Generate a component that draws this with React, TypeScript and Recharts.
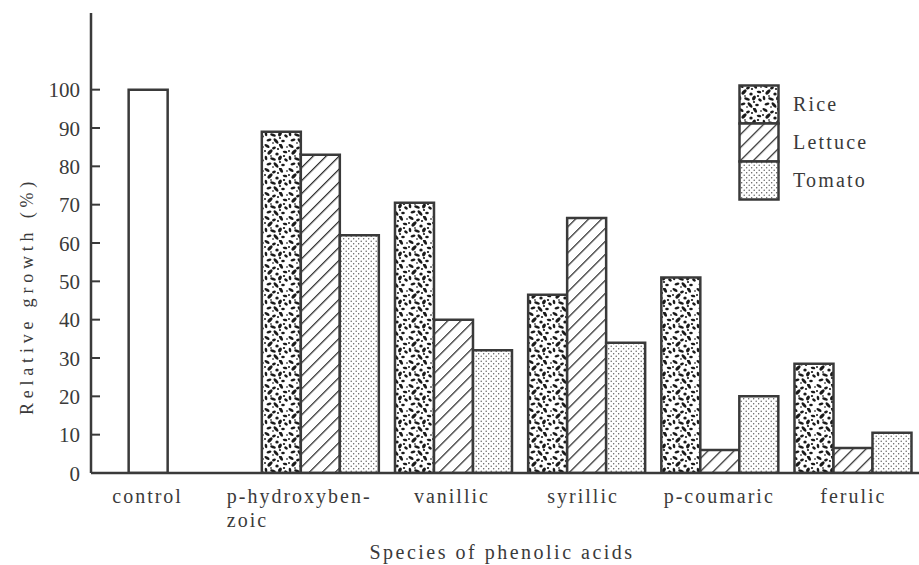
import React from "react";
import { BarChart, Bar, XAxis, YAxis, Legend } from "recharts";

// ---- data ----
const categories = ["control", "p-hydroxybenzoic", "vanillic", "syrillic", "p-coumaric", "ferulic"];
const controlValues = [100, null, null, null, null, null];
const riceValues = [null, 89, 70.5, 46.5, 51, 28.5];
const lettuceValues = [null, 83, 40, 66.5, 6, 6.5];
const tomatoValues = [null, 62, 32, 34, 20, 10.5];
const tickLabels = [["control"], ["p-hydroxyben-", "zoic"], ["vanillic"], ["syrillic"], ["p-coumaric"], ["ferulic"]];
const legendLabels = ["Rice", "Lettuce", "Tomato"];
const yTicks = [0, 10, 20, 30, 40, 50, 60, 70, 80, 90, 100];

const data = categories.map((c, i) => ({
  name: c,
  control: controlValues[i],
  rice: riceValues[i],
  lettuce: lettuceValues[i],
  tomato: tomatoValues[i],
}));

// ---- style / layout ----
const INK = "#3a3a3a";
const TEXT = "#3a3a3a";
const FONT = "'Liberation Serif', 'DejaVu Serif', serif";
const W = 919;
const H = 565;
const AXIS_X = 91;
const fills = ["url(#speckle)", "url(#hatch)", "url(#dots)"];
const tickLayout = [
  { anchor: "middle", dx: -39 },
  { anchor: "start", dx: -93 },
  { anchor: "middle", dx: -1 },
  { anchor: "middle", dx: -3 },
  { anchor: "middle", dx: 0 },
  { anchor: "middle", dx: 1 },
];
const blobs: [number, number, number, number, number][] = [
  [3, 2, 2.8, 1.3, 30], [10, 4, 2.0, 1.3, -20], [17, 2, 3.0, 1.5, 60], [21, 8, 2.3, 1.2, 10],
  [6, 8, 3.2, 1.6, -45], [13, 10, 1.7, 1.5, 0], [2, 14, 2.3, 1.3, 80], [9, 15, 3.0, 1.4, 20],
  [16, 14, 2.5, 1.7, -60], [22, 16, 2.0, 1.3, 40], [5, 20, 2.5, 1.3, -10], [12, 21, 3.3, 1.5, 50],
  [19, 21, 1.8, 1.2, 0], [14, 5, 1.1, 1.0, 0], [20, 12, 1.2, 0.9, 0], [7, 12, 1.0, 0.8, 0],
  [1, 7, 1.0, 0.9, 0], [16, 18, 1.1, 1.0, 0], [23, 3, 1.0, 0.8, 0], [9, 23, 1.0, 0.8, 0],
];

const Defs = () => (
  <svg width={0} height={0} style={{ position: "absolute" }}>
    <defs>
      <pattern id="speckle" width="24" height="24" patternUnits="userSpaceOnUse">
        <rect width="24" height="24" fill="#fff" />
        {blobs.map(([x, y, rx, ry, a], i) => (
          <ellipse key={i} cx={x} cy={y} rx={rx} ry={ry} transform={`rotate(${a} ${x} ${y})`} fill="#1a1a1a" />
        ))}
      </pattern>
      <pattern id="hatch" width="9.2" height="9.2" patternUnits="userSpaceOnUse" patternTransform="rotate(45)">
        <rect width="9.2" height="9.2" fill="#fff" />
        <line x1="0.6" y1="0" x2="0.6" y2="9.2" stroke="#2a2a2a" strokeWidth="1.3" />
      </pattern>
      <pattern id="dots" width="5" height="5" patternUnits="userSpaceOnUse">
        <rect width="5" height="5" fill="#fff" />
        <circle cx="1.2" cy="1.2" r="0.7" fill="#555" />
        <circle cx="3.7" cy="3.7" r="0.7" fill="#555" />
      </pattern>
    </defs>
  </svg>
);

const YTick = (props: any) => {
  const { y, payload } = props;
  return (
    <g>
      <line x1={AXIS_X} x2={AXIS_X + 9} y1={y} y2={y} stroke={INK} strokeWidth={2} />
      <text x={80} y={y + 7.5} textAnchor="end" fontFamily={FONT} fontSize={21} fill={TEXT}>
        {payload.value}
      </text>
    </g>
  );
};

const XTick = (props: any) => {
  const { x, index } = props;
  const lines = tickLabels[index] || [];
  const lay = tickLayout[index] || { anchor: "middle", dx: 0 };
  return (
    <g>
      {lines.map((s, i) => (
        <text
          key={i}
          x={x + lay.dx}
          y={503 + i * 24}
          textAnchor={lay.anchor as any}
          fontFamily={FONT}
          fontSize={20}
          letterSpacing={2}
          fill={TEXT}
        >
          {s}
        </text>
      ))}
    </g>
  );
};

const LegendContent = () => (
  <svg width={180} height={120}>
    {legendLabels.map((s, i) => (
      <g key={s}>
        <rect x={1.5} y={1.5 + i * 38} width={39} height={38} fill={fills[i]} stroke={INK} strokeWidth={2.5} />
        <text x={55} y={i * 38 + 27} fontFamily={FONT} fontSize={20} letterSpacing={2.2} fill={TEXT}>
          {s}
        </text>
      </g>
    ))}
  </svg>
);

export default function App() {
  return (
    <div style={{ position: "absolute", left: 0, top: 0, width: W, height: H, background: "#fff" }}>
      <Defs />
      <BarChart
        width={W}
        height={H}
        data={data}
        margin={{ top: 13, right: 0, bottom: 0, left: 0 }}
        barCategoryGap="6.5%"
        barGap={0}
      >
        <XAxis
          dataKey="name"
          height={92}
          padding={{ left: 29, right: 0 }}
          axisLine={{ stroke: INK, strokeWidth: 2.5 }}
          tickLine={false}
          tick={<XTick />}
          interval={0}
          label={() => (
            <text x={502} y={559} textAnchor="middle" fontFamily={FONT} fontSize={20} letterSpacing={2.5} fill={TEXT}>
              Species of phenolic acids
            </text>
          )}
        />
        <YAxis
          width={91}
          domain={[0, 120]}
          ticks={yTicks}
          axisLine={{ stroke: INK, strokeWidth: 2.5 }}
          tickLine={false}
          tick={<YTick />}
          allowDataOverflow
          label={() => (
            <text
              x={27}
              y={296}
              transform="rotate(-90 27 296)"
              textAnchor="middle"
              dominantBaseline="central"
              fontFamily={FONT}
              fontSize={18}
              letterSpacing={4.8}
              fill={TEXT}
            >
              Relative growth (%)
            </text>
          )}
        />
        <Legend
          layout="vertical"
          align="center"
          verticalAlign="middle"
          content={<LegendContent />}
          wrapperStyle={{ left: 738, top: 84, width: 180, height: 120 }}
        />
        <Bar dataKey="control" stackId="r" fill="#fff" stroke={INK} strokeWidth={2.5} isAnimationActive={false} legendType="none" />
        <Bar dataKey="rice" stackId="r" fill={fills[0]} stroke={INK} strokeWidth={2.5} isAnimationActive={false} />
        <Bar dataKey="lettuce" fill={fills[1]} stroke={INK} strokeWidth={2.5} isAnimationActive={false} />
        <Bar dataKey="tomato" fill={fills[2]} stroke={INK} strokeWidth={2.5} isAnimationActive={false} />
      </BarChart>
    </div>
  );
}
